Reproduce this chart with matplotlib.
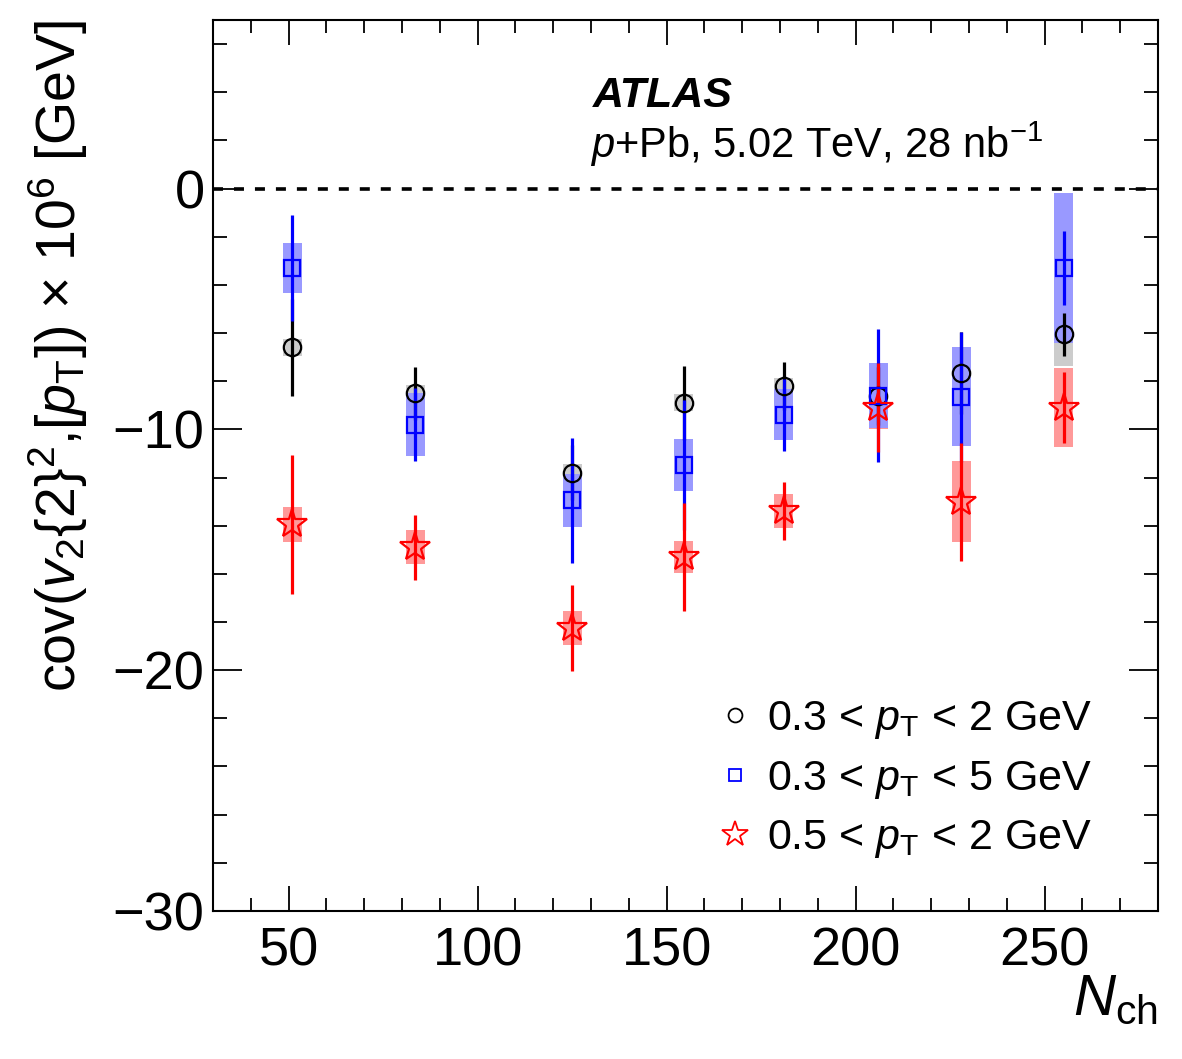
import numpy as np
import matplotlib
matplotlib.use("Agg")
import matplotlib.pyplot as plt
from matplotlib.lines import Line2D
from matplotlib.ticker import MultipleLocator

plt.rcParams['font.family'] = ['Liberation Sans', 'DejaVu Sans']
plt.rcParams['mathtext.fontset'] = 'custom'
plt.rcParams['mathtext.rm'] = 'Liberation Sans'
plt.rcParams['mathtext.it'] = 'Liberation Sans:italic'
plt.rcParams['mathtext.bf'] = 'Liberation Sans:bold'
plt.rcParams['lines.scale_dashes'] = False

# 数据：N_ch 区间中心
nch = [51, 83.5, 125, 154.5, 181, 206, 228, 255]

# 0.3 < pT < 2 GeV
y_a = [-6.6, -8.5, -11.8, -8.9, -8.2, -8.6, -7.65, -6.05]
stat_a = [2.0, 1.1, 1.15, 1.55, 1.0, 1.2, 1.7, 0.9]
sys_a = [0.35, 0.35, 0.35, 0.35, 0.35, 0.5, 0.5, 1.33]

# 0.3 < pT < 5 GeV
y_b = [-3.3, -9.8, -12.95, -11.5, -9.4, -8.6, -8.65, -3.3]
stat_b = [2.2, 1.5, 2.6, 2.7, 1.5, 2.75, 2.7, 1.55]
sys_b = [1.05, 1.3, 1.1, 1.08, 1.06, 1.35, 2.05, 3.1]

# 0.5 < pT < 2 GeV
y_c = [-13.95, -14.9, -18.25, -15.3, -13.4, -9.1, -13.0, -9.1]
stat_c = [2.9, 1.35, 1.8, 2.25, 1.2, 1.85, 2.45, 1.47]
sys_c = [0.73, 0.7, 0.7, 0.67, 0.7, 0.9, 1.68, 1.64]

labels = [r'0.3 < $p_{\rm T}$ < 2 GeV',
          r'0.3 < $p_{\rm T}$ < 5 GeV',
          r'0.5 < $p_{\rm T}$ < 2 GeV']

fig = plt.figure(figsize=(11.82, 10.59), dpi=100)
ax = fig.add_axes([0.1802, 0.1398, 0.7995, 0.8413])

x = np.array(nch)
box_w = 5.0

# 系统误差方框
for yv, sv, col in [(y_a, sys_a, '#cccccc'), (y_c, sys_c, '#ff9999'), (y_b, sys_b, '#9999ff')]:
    yv = np.array(yv); sv = np.array(sv)
    ax.bar(x, 2 * sv, bottom=yv - sv, width=box_w, color=col, linewidth=0, zorder=1)

# 统计误差
ax.errorbar(x, y_a, yerr=stat_a, fmt='none', ecolor='black', elinewidth=2.3, capsize=0, zorder=2)
ax.errorbar(x, y_b, yerr=stat_b, fmt='none', ecolor='#0000ff', elinewidth=2.3, capsize=0, zorder=3)
ax.errorbar(x, y_c, yerr=stat_c, fmt='none', ecolor='#ff0000', elinewidth=2.3, capsize=0, zorder=4)

# 数据点
ax.plot(x, y_a, 'o', ms=12.5, mfc='none', mec='black', mew=1.6, zorder=5)
ax.plot(x, y_b, 's', ms=11.5, mfc='none', mec='#0000ff', mew=1.6, zorder=6)
ax.plot(x, y_c, '*', ms=22, mfc='none', mec='#ff0000', mew=1.6, zorder=7)

ax.axhline(0, color='black', lw=2.6, dashes=(7.2, 7.9), zorder=0.5)

ax.set_xlim(30, 280)
ax.set_ylim(-30, 7)
ax.xaxis.set_major_locator(MultipleLocator(50))
ax.xaxis.set_minor_locator(MultipleLocator(10))
ax.yaxis.set_major_locator(MultipleLocator(10))
ax.yaxis.set_minor_locator(MultipleLocator(2))

for s in ax.spines.values():
    s.set_linewidth(1.5)
ax.tick_params(which='both', direction='in', top=True, right=True, width=1.3)
ax.tick_params(axis='x', which='major', length=18, labelsize=39, pad=11)
ax.tick_params(axis='x', which='minor', length=9.5)
ax.tick_params(axis='y', which='major', length=21, labelsize=39, pad=6)
ax.tick_params(axis='y', which='minor', length=10)

ax.set_ylabel(r'cov($v_{2}${2}$^{2}$,[$p_{\rm T}$]) $\times$ 10$^{6}$ [GeV]', fontsize=40, loc='top')
ax.yaxis.set_label_coords(-0.13, 1.0)
ax.set_xlabel(r'$N_{\rm ch}$', fontsize=42, loc='right')
ax.xaxis.set_label_coords(1.0, -0.07)

ax.text(0.402, 0.902, 'ATLAS', transform=ax.transAxes, fontsize=31,
        fontweight='bold', fontstyle='italic', va='baseline')
ax.text(0.399, 0.845, r'$p$+Pb, 5.02 TeV, 28 nb$^{-1}$', transform=ax.transAxes,
        fontsize=30, va='baseline')

handles = [
    Line2D([], [], ls='none', marker='o', ms=10, mfc='none', mec='black', mew=1.3),
    Line2D([], [], ls='none', marker='s', ms=9, mfc='none', mec='#0000ff', mew=1.3),
    Line2D([], [], ls='none', marker='*', ms=19, mfc='none', mec='#ff0000', mew=1.3),
]
ax.legend(handles, labels, loc='upper left', bbox_to_anchor=(0.509, 0.2615),
          frameon=False, fontsize=31, handlelength=0.9, handletextpad=0.3,
          labelspacing=0.40, borderpad=0)

fig.savefig('out.png', dpi=100)
